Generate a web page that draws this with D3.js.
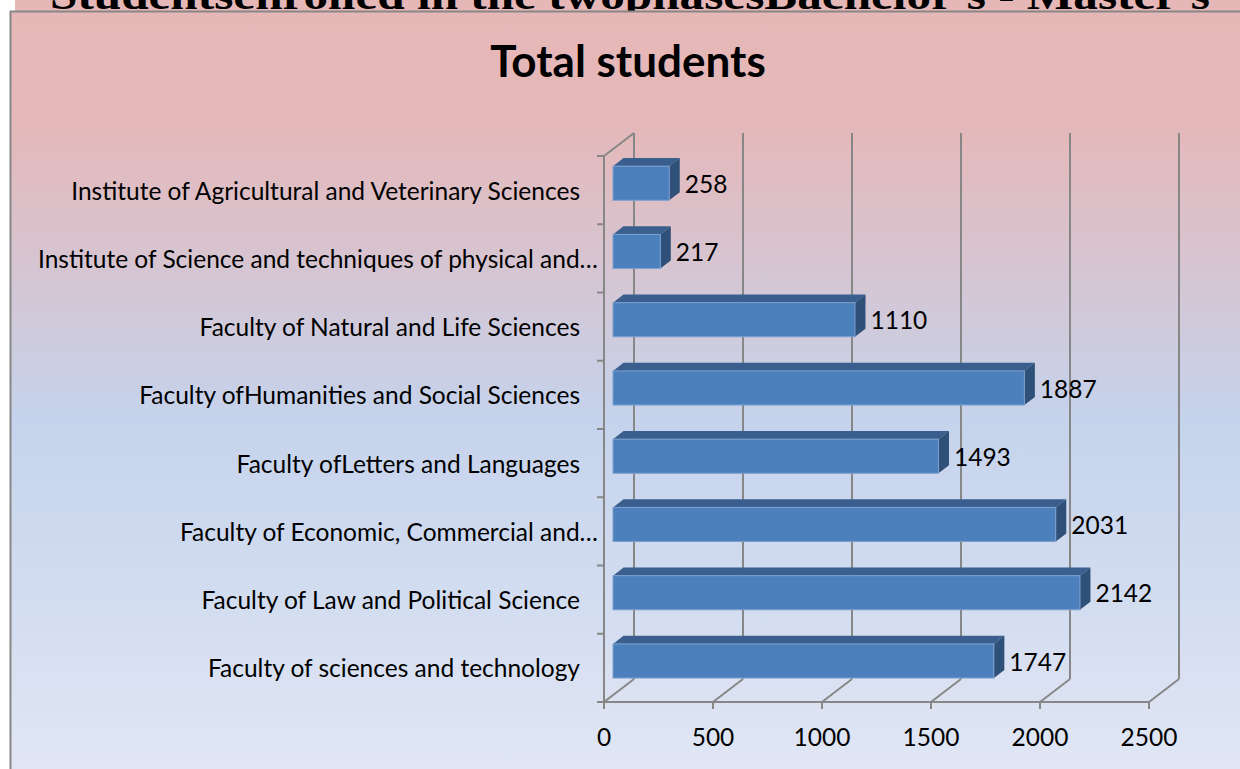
<!DOCTYPE html>
<meta charset="utf-8">
<style>
body { margin: 0; background: #fff; }
svg { display: block; }
.grid line { stroke: #878787; stroke-width: 2px; }
.axis line { stroke: #878787; stroke-width: 2px; }
.lbl { font-family: Lato, "Open Sans", sans-serif; font-size: 24.5px; fill: #000; }
</style>
<body>
<svg width="1240" height="769"></svg>
<script src="https://d3js.org/d3.v7.min.js"></script>
<script>
// categories listed top to bottom as drawn
var categories = [
  "Institute of Agricultural and Veterinary Sciences",
  "Institute of Science and techniques of physical and…",
  "Faculty of Natural and Life Sciences",
  "Faculty ofHumanities and Social Sciences",
  "Faculty ofLetters and Languages",
  "Faculty of Economic, Commercial and…",
  "Faculty of Law and Political Science",
  "Faculty of sciences and technology"
];
var students = [258, 217, 1110, 1887, 1493, 2031, 2142, 1747];
var ticks = [0, 500, 1000, 1500, 2000, 2500];
var title = "Total students";
var docHeading = "Studentsenrolled in the twophasesBachelor's - Master's";

var svg = d3.select("svg");

// depth of the 3d box
var dx = 30, dy = -23;

var x = d3.scaleLinear().domain([0, 2500]).range([604, 1149]);
var y = d3.scaleBand().domain(categories).range([156, 702]).padding(0);

var defs = svg.append("defs");
var grad = defs.append("linearGradient")
    .attr("id", "bg")
    .attr("gradientUnits", "userSpaceOnUse")
    .attr("x1", 0).attr("y1", 11).attr("x2", 0).attr("y2", 769);
grad.append("stop").attr("offset", 0).attr("stop-color", "#e6b7b7");
grad.append("stop").attr("offset", 0.15).attr("stop-color", "#e5b8b9");
grad.append("stop").attr("offset", 0.54).attr("stop-color", "#c5d3ec");
grad.append("stop").attr("offset", 1).attr("stop-color", "#e0e6f4");

// heading strip of the page behind the chart
svg.append("rect").attr("x", 15).attr("y", 0).attr("width", 1225).attr("height", 12)
    .attr("fill", "#e6b7b7");
svg.append("text")
    .attr("x", 50).attr("y", 9)
    .attr("textLength", 1160).attr("lengthAdjust", "spacingAndGlyphs")
    .style("font-family", "'Liberation Serif', serif")
    .style("font-weight", "bold").style("font-size", "42px")
    .text(docHeading);

// chart area
svg.append("rect")
    .attr("x", 10.5).attr("y", 11.5).attr("width", 1240).attr("height", 770)
    .attr("fill", "url(#bg)").attr("stroke", "#878787").attr("stroke-width", 2);

svg.append("text")
    .attr("x", 628).attr("y", 77)
    .attr("text-anchor", "middle")
    .style("font-family", "Lato, 'Open Sans', sans-serif")
    .style("font-weight", "bold").style("font-size", "44px")
    .text(title);

var y0 = y.range()[0], y1 = y.range()[1];

// back wall gridlines
var grid = svg.append("g").attr("class", "grid");
grid.selectAll(".back").data(ticks).enter().append("line")
    .attr("x1", function(d) { return x(d) + dx; })
    .attr("x2", function(d) { return x(d) + dx; })
    .attr("y1", y0 + dy).attr("y2", y1 + dy);
// floor lines
grid.selectAll(".floor").data(ticks).enter().append("line")
    .attr("x1", function(d) { return x(d); })
    .attr("x2", function(d) { return x(d) + dx; })
    .attr("y1", y1).attr("y2", y1 + dy);
// left wall top edge
grid.append("line")
    .attr("x1", x(0)).attr("y1", y0).attr("x2", x(0) + dx).attr("y2", y0 + dy);

// bars
var f0 = 0.3, f1 = 0.65;
var bh = y.bandwidth() * 0.5;
var bars = svg.append("g").selectAll("g").data(students).enter().append("g");

function by(i) { return y(categories[i]) + (y.bandwidth() - bh) / 2 + f0 * dy; }
function bx0() { return x(0) + f0 * dx; }
function bx1(d) { return x(d) + f0 * dx; }
var ox = (f1 - f0) * dx, oy = (f1 - f0) * dy;

bars.append("path")
    .attr("fill", "#3a5f8e")
    .attr("d", function(d, i) {
      var t = by(i);
      return "M" + bx0() + "," + t + "L" + (bx0() + ox) + "," + (t + oy) +
        "L" + (bx1(d) + ox) + "," + (t + oy) + "L" + bx1(d) + "," + t + "Z";
    });
bars.append("path")
    .attr("fill", "#2f5079")
    .attr("d", function(d, i) {
      var t = by(i);
      return "M" + bx1(d) + "," + t + "L" + (bx1(d) + ox) + "," + (t + oy) +
        "L" + (bx1(d) + ox) + "," + (t + oy + bh) + "L" + bx1(d) + "," + (t + bh) + "Z";
    });
bars.append("rect")
    .attr("x", bx0())
    .attr("y", function(d, i) { return by(i); })
    .attr("width", function(d) { return bx1(d) - bx0(); })
    .attr("height", bh)
    .attr("fill", "#4c80bd")
    .attr("stroke", "#7ea0cf").attr("stroke-width", 1);

bars.append("text")
    .attr("class", "lbl")
    .attr("x", function(d) { return bx1(d) + ox + 5; })
    .attr("y", function(d, i) { return by(i) + bh / 2 + 1; })
    .attr("dy", "0.35em")
    .text(function(d) { return d; });

// front axes
var axis = svg.append("g").attr("class", "axis");
axis.append("line").attr("x1", x(0)).attr("x2", x(0)).attr("y1", y0).attr("y2", y1);
axis.append("line").attr("x1", x(0)).attr("x2", x(2500)).attr("y1", y1).attr("y2", y1);
var bounds = categories.map(function(c) { return y(c); }).concat([y1]);
axis.selectAll(".yt").data(bounds).enter().append("line")
    .attr("x1", x(0) - 7).attr("x2", x(0))
    .attr("y1", function(d) { return d; }).attr("y2", function(d) { return d; });
axis.selectAll(".xt").data(ticks).enter().append("line")
    .attr("x1", function(d) { return x(d); }).attr("x2", function(d) { return x(d); })
    .attr("y1", y1).attr("y2", y1 + 7);

svg.append("g").selectAll("text").data(ticks).enter().append("text")
    .attr("class", "lbl")
    .attr("x", function(d) { return x(d); })
    .attr("y", 737).attr("dy", "0.35em")
    .attr("text-anchor", "middle")
    .text(function(d) { return d; });

svg.append("g").selectAll("text").data(categories).enter().append("text")
    .attr("class", "lbl")
    .attr("x", function(d) { return /…$/.test(d) ? x(0) - 6 : x(0) - 24; })
    .attr("y", function(d) { return y(d) + y.bandwidth() / 2 + 1; })
    .attr("dy", "0.35em")
    .attr("text-anchor", "end")
    .text(function(d) { return d; });
</script>
</body>
